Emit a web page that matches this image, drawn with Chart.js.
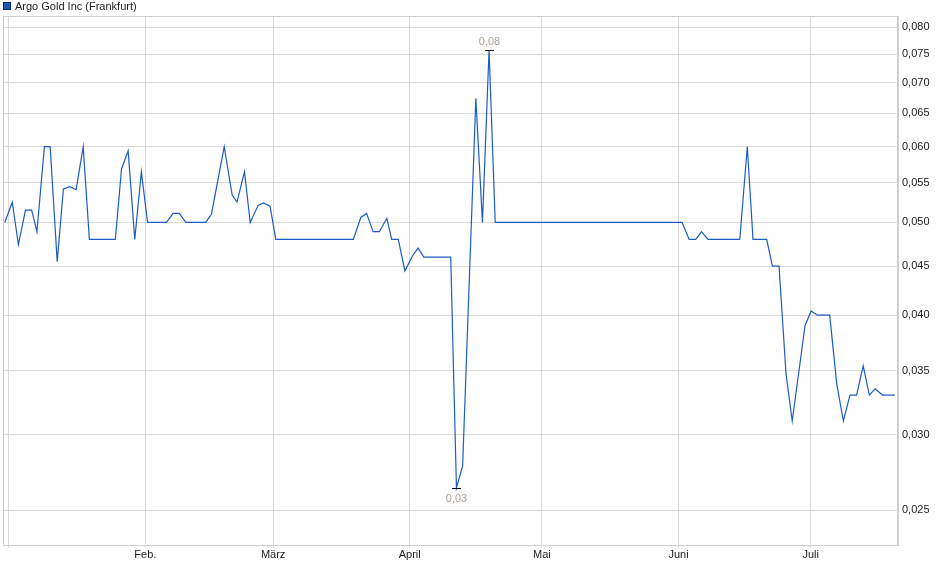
<!DOCTYPE html>
<html lang="de">
<head>
<meta charset="utf-8">
<title>Argo Gold Inc (Frankfurt)</title>
<script src="https://cdn.jsdelivr.net/npm/chart.js@4.4.1/dist/chart.umd.min.js"></script>
<style>
    html, body { margin: 0; padding: 0; background: #fff; }
    #wrap { width: 940px; height: 579px; position: relative; }
</style>
</head>
<body>
<div id="wrap"><canvas id="chart" width="940" height="579"></canvas></div>
<script>
// Argo Gold Inc (Frankfurt) - Kursverlauf Jan bis Jul

const seriesName = 'Argo Gold Inc (Frankfurt)';

// days since 1 Jan
const days = [
    -0.9, 0.8, 2.2, 3.8, 5.2, 6.4, 8.1, 9.4, 11.0, 12.4,
    13.9, 15.3, 16.9, 18.3, 24.2, 25.6, 27.1, 28.6, 30.1, 31.5,
    35.8, 37.3, 38.7, 40.2, 44.7, 46.0, 48.9, 50.7, 51.8, 53.5,
    54.8, 56.6, 57.8, 59.3, 60.6, 78.2, 79.9, 81.2, 82.7, 84.1,
    85.8, 86.9, 88.4, 89.9, 91.7, 92.9, 94.2, 100.3, 101.6, 103.0,
    106.0, 107.5, 109.0, 110.4, 152.8, 154.4, 155.9, 157.2, 158.7, 165.9,
    167.6, 168.9, 172.0, 173.3, 174.8, 176.4, 177.8, 180.7, 182.1, 183.5,
    186.3, 187.9, 189.4, 190.9, 192.4, 193.9, 195.3, 196.6, 198.3, 201.1
];

// price in EUR
const prices = [
    0.0500, 0.0525, 0.0474, 0.0515, 0.0515, 0.0489, 0.0600, 0.0600, 0.0455, 0.0542,
    0.0545, 0.0541, 0.0600, 0.0480, 0.0480, 0.0569, 0.0594, 0.0480, 0.0565, 0.0500,
    0.0500, 0.0511, 0.0511, 0.0500, 0.0500, 0.0510, 0.0600, 0.0534, 0.0525, 0.0565,
    0.0500, 0.0521, 0.0524, 0.0520, 0.0480, 0.0480, 0.0506, 0.0511, 0.0489, 0.0489,
    0.0505, 0.0480, 0.0480, 0.0445, 0.0462, 0.0470, 0.0460, 0.0460, 0.0264, 0.0278,
    0.0674, 0.0500, 0.0757, 0.0500, 0.0500, 0.0480, 0.0480, 0.0489, 0.0480, 0.0480,
    0.0600, 0.0480, 0.0480, 0.0450, 0.0450, 0.0347, 0.0310, 0.0390, 0.0404, 0.0400,
    0.0400, 0.0339, 0.0310, 0.0330, 0.0330, 0.0354, 0.0330, 0.0335, 0.0330, 0.0330
];

// month starts (days since 1 Jan) and their labels
const monthDays = [0, 31, 60, 91, 121, 152, 182];
const monthLabels = ['', 'Feb.', 'März', 'April', 'Mai', 'Juni', 'Juli'];

const yTicks = [0.025, 0.030, 0.035, 0.040, 0.045, 0.050, 0.055, 0.060, 0.065, 0.070, 0.075, 0.080];

const FONT = 'Liberation Sans, Arial, sans-serif';
const LINE_COLOR = '#1c5cc4';
const GRID_COLOR = '#dadada';

const fmt = (v, d) => v.toFixed(d).replace('.', ',');

// frame, legend and the high / low markers
const decorPlugin = {
    id: 'decor',
    beforeDatasetsDraw(chart) {
        const { ctx, chartArea: a } = chart;
        ctx.save();
        ctx.strokeStyle = '#cfcfcf';
        ctx.lineWidth = 1;
        ctx.strokeRect(a.left + 0.5, a.top + 0.5, a.right - a.left - 1, a.bottom - a.top);
        ctx.restore();
    },
    afterDraw(chart) {
        const { ctx } = chart;
        const xs = chart.scales.x;
        const ys = chart.scales.y;

        // legend
        ctx.save();
        ctx.fillStyle = '#1a55b8';
        ctx.fillRect(3.5, 2.5, 7, 7);
        ctx.strokeStyle = '#0d2b66';
        ctx.lineWidth = 1;
        ctx.strokeRect(3.5, 2.5, 7, 7);
        ctx.fillStyle = '#222';
        ctx.font = '11px ' + FONT;
        ctx.textBaseline = 'middle';
        ctx.textAlign = 'left';
        ctx.fillText(seriesName, 15, 6.5);

        // high and low
        let hi = 0, lo = 0;
        prices.forEach((p, i) => {
            if (p > prices[hi]) hi = i;
            if (p < prices[lo]) lo = i;
        });
        const marks = [
            { i: hi, dy: -9 },
            { i: lo, dy: 10 }
        ];
        marks.forEach(m => {
            const px = Math.round(xs.getPixelForValue(days[m.i])) + 0.5;
            const py = Math.round(ys.getPixelForValue(prices[m.i])) + 0.5;
            ctx.strokeStyle = '#111';
            ctx.beginPath();
            ctx.moveTo(px - 4.5, py);
            ctx.lineTo(px + 4.5, py);
            ctx.stroke();
            ctx.fillStyle = '#a9a196';
            ctx.textAlign = 'center';
            ctx.fillText(fmt(prices[m.i], 2), px, py + m.dy);
        });
        ctx.restore();
    }
};

const ctx = document.getElementById('chart');

new Chart(ctx, {
    type: 'line',
    data: {
        datasets: [{
            label: seriesName,
            data: days.map((d, i) => ({ x: d, y: prices[i] })),
            borderColor: LINE_COLOR,
            borderWidth: 1.2,
            pointRadius: 0,
            tension: 0,
            fill: false
        }]
    },
    options: {
        responsive: false,
        animation: false,
        layout: { padding: { left: 3, top: 16, right: 0, bottom: 0 } },
        plugins: {
            legend: { display: false },
            tooltip: { enabled: false }
        },
        scales: {
            x: {
                type: 'linear',
                min: -1.3,
                max: 201.8,
                afterBuildTicks(scale) {
                    scale.ticks = monthDays.map(v => ({ value: v }));
                },
                afterFit(scale) { scale.height = 34; },
                grid: { color: GRID_COLOR, tickLength: 3, drawTicks: true },
                border: { color: '#cfcfcf' },
                ticks: {
                    autoSkip: false,
                    maxRotation: 0,
                    padding: 0,
                    color: '#222',
                    font: { family: FONT, size: 11 },
                    callback: (v, i) => monthLabels[i]
                }
            },
            y: {
                type: 'logarithmic',
                position: 'right',
                min: 0.02318,
                max: 0.08219,
                afterBuildTicks(scale) {
                    scale.ticks = yTicks.map(v => ({ value: v }));
                },
                afterFit(scale) { scale.width = 42; },
                grid: { color: GRID_COLOR, drawTicks: false },
                border: { color: '#cfcfcf' },
                ticks: {
                    padding: 4,
                    color: '#222',
                    font: { family: FONT, size: 11 },
                    callback: v => fmt(v, 3)
                }
            }
        }
    },
    plugins: [decorPlugin]
});
</script>
</body>
</html>
